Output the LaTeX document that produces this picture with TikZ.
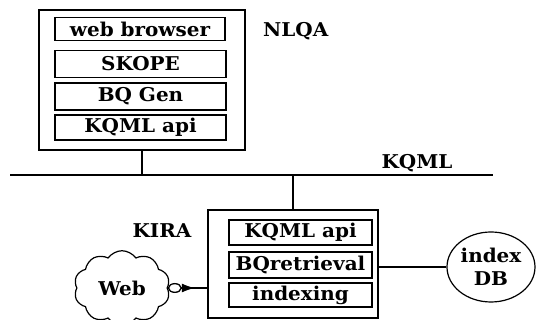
\documentclass[tikz,border=0pt]{standalone}
\usepackage{fontspec}
\setmainfont{DejaVu Serif}[FakeStretch=1.05]
\usepackage{tikz}
\usetikzlibrary{positioning}
\usetikzlibrary{shapes, shapes.symbols, arrows.meta}
\tikzstyle{agent} = [draw=black, line width=1.4pt, inner sep=0pt]
\tikzstyle{layer} = [draw=black, line width=1.2pt, inner sep=0pt, minimum height=23pt, text centered]
\tikzstyle{line} = [line width=1.3pt]
\tikzstyle{lbl} = [inner sep=0pt]

\begin{document}
\begin{tikzpicture}[x=1pt, y=-1pt, font=\fontsize{19}{21}\selectfont\bfseries]
        \useasboundingbox (0,0) rectangle (539,320);
        % NLQA agent
        \node[agent, minimum width=206, minimum height=140] (NL) at (142,80) {};
        \node[layer, minimum width=170] (wb) at (140,29) {web browser};
        \node[layer, minimum width=171, minimum height=27] (sk) at (140.5,64) {SKOPE};
        \node[layer, minimum width=171, minimum height=27] (bq) at (140.5,96.5) {BQ Gen};
        \node[layer, minimum width=171, minimum height=25] (ka) at (140.5,127.5) {KQML api};
        \node[lbl, anchor=west] (nlqa) at (263,31) {NLQA};

        % KQML bus
        \coordinate (busL) at (10,175);
        \coordinate (busR) at (493,175);
        \node[lbl] (kqml) at (417,163) {KQML};

        % KIRA agent
        \node[agent, minimum width=170, minimum height=108] (KI) at (293,264) {};
        \node[layer, minimum width=143, minimum height=25] (kb) at (300.5,232.5) {KQML api};
        \node[layer, minimum width=143, minimum height=26] (br) at (300.5,265) {BQretrieval};
        \node[layer, minimum width=143, minimum height=24] (ix) at (300.5,295) {indexing};
        \node[lbl] (kira) at (162,231) {KIRA};

        \node[shape=cloud, draw=black, line width=1.2pt, cloud puffs=10, cloud puff arc=110,
              minimum width=96, minimum height=62, inner sep=0pt] (Web) at (122,288) {Web};
        \node[shape=ellipse, draw=black, line width=1.2pt, minimum width=88, minimum height=70,
              inner sep=0pt, align=center] (DB) at (491,267) {index\\[2pt]DB};
        \coordinate (plug) at (KI.west |- Web.east);

        \draw[line] (busL) -- (busR);
        \draw[line] (NL.south) -- (NL.south |- busL);
        \draw[line] (KI.north) -- (KI.north |- busL);
        \draw[line] (KI.east |- DB.west) -- (DB.west);
        \draw[line, arrows={Circle[open,length=14pt,width=10pt]Latex[reversed,length=13pt,width=9pt]-}] (Web.east) -- (plug);
    \end{tikzpicture}
\end{document}
